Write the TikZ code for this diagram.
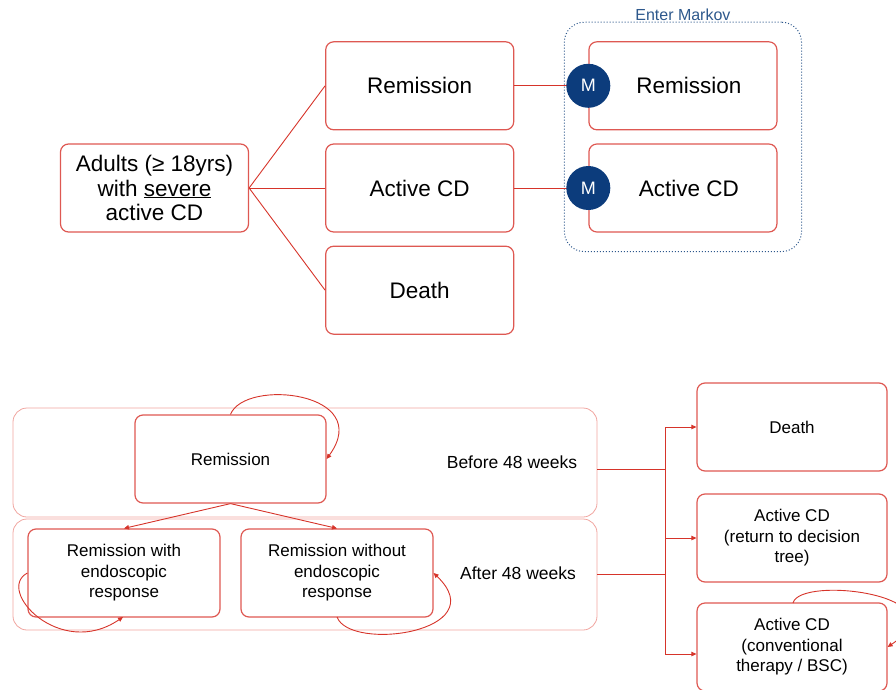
\documentclass[tikz,border=0pt]{standalone}
\usepackage{fontspec}
\setmainfont{Liberation Sans}
\usetikzlibrary{arrows.meta,positioning,fit}

\definecolor{boxred}{RGB}{222,88,82}
\definecolor{bandred}{RGB}{240,165,160}
\definecolor{linkred}{RGB}{214,52,42}
\definecolor{navy}{RGB}{12,60,124}
\definecolor{markovblue}{RGB}{45,88,140}

\begin{document}
\begin{tikzpicture}[
  x=1pt,y=-1pt,
  node distance=13pt and 76pt,
  >={Triangle[length=5pt,width=4.5pt]},
  state/.style={draw=boxred,line width=1.2pt,rounded corners=8pt,minimum width=188pt,minimum height=88pt,
    align=center,font=\fontsize{22.5}{24.5}\selectfont},
  small/.style={state,font=\fontsize{17}{20.5}\selectfont},
  band/.style={draw=bandred,line width=0.8pt,rounded corners=14pt,minimum width=584pt},
  link/.style={linkred,line width=0.9pt},
  mnode/.style={circle,fill=navy,text=white,minimum size=44pt,inner sep=0pt,font=\fontsize{18}{18}\selectfont}
]
  \useasboundingbox (0,0) rectangle (896,690);

  \node[state] (adults) at (154.5,188) {Adults (≥ 18yrs)\\with \underline{severe}\\active CD};
  \node[state,right=of adults] (act) {Active CD};
  \node[state,above=of act] (rem) {Remission};
  \node[state,below=of act] (dth) {Death};
  \node[state,right=74pt of rem] (mrem) {\hspace*{12pt}Remission};
  \node[state,right=74pt of act] (mact) {\hspace*{12pt}Active CD};
  \node[draw=markovblue,dotted,line width=1pt,rounded corners=20pt,inner xsep=24pt,inner ysep=19pt,fit=(mrem)(mact)] (markov) {};
  \node[above=0pt of markov,inner sep=1pt,text=markovblue,font=\fontsize{16}{16}\selectfont] (mlabel) {Enter Markov};

  \draw[link] (adults.east) -- (rem.west);
  \draw[link] (adults.east) -- (act.west);
  \draw[link] (adults.east) -- (dth.west);
  \draw[link] (rem.east) -- (mrem.west);
  \draw[link] (act.east) -- (mact.west);
  \node[mnode] (m1) at (mrem.west) {M};
  \node[mnode] (m2) at (mact.west) {M};

  \node[band,minimum height=109pt] (before) at (305,462.5) {};
  \node[band,minimum height=111pt] (after) at (305,574.5) {};
  \node[small,minimum width=191pt] (rem2) at (230.5,459) {Remission};
  \node[small,minimum width=192pt] (remw) at (124,573) {Remission with\\endoscopic\\response};
  \node[small,minimum width=192pt] (remwo) at (337,573) {Remission without\\endoscopic\\response};
  \node[font=\fontsize{17.5}{20}\selectfont] (blabel) at (512,462) {Before 48 weeks};
  \node[font=\fontsize{17.5}{20}\selectfont] (alabel) at (518,573) {After 48 weeks};

  \node[small,minimum width=190pt] (dth2) at (792,427) {Death};
  \node[small,minimum width=190pt] (actr) at (792,538) {Active CD\\(return to decision\\tree)};
  \node[small,minimum width=190pt] (conv) at (792,647) {Active CD\\(conventional\\therapy / BSC)};

  \draw[link,->] (rem2.south) -- (remw.north);
  \draw[link,->] (rem2.south) -- (remwo.north);
  \draw[link,->] (rem2.north) .. controls (245,378) and (375,392) .. (rem2.east);
  \draw[link,->] (remw.west) .. controls (-5,590) and (60,660) .. (123,617);
  \draw[link,->] (337,617) .. controls (350,652) and (495,632) .. (remwo.east);
  \draw[link,->] (793,603) .. controls (800,575) and (965,595) .. (conv.east);

  \coordinate (jd) at (665,427);
  \coordinate (jb) at (665,469);
  \coordinate (ja) at (665,574);
  \coordinate (jc) at (665,654);
  \draw[link] (jd) -- (jc);
  \draw[link] (jb -| before.east) -- (jb);
  \draw[link] (ja -| after.east) -- (ja);
  \draw[link,->] (jd) -- (dth2);
  \draw[link,->] (jd |- actr) -- (actr);
  \draw[link,->] (jc) -- (jc -| conv.west);
\end{tikzpicture}
\end{document}
